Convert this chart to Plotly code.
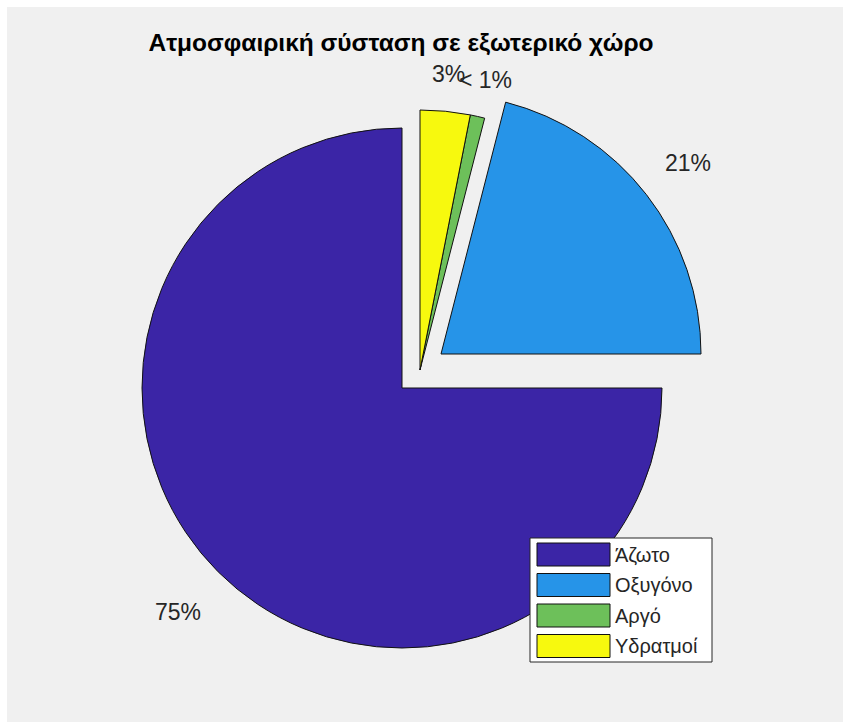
import math
import plotly.graph_objects as go

# ---- data ----
labels = ["Άζωτο", "Οξυγόνο", "Αργό", "Υδρατμοί"]
values = [75, 21, 0.9, 3.1]
colors = ["#3b25a6", "#2694e8", "#6dc05a", "#f7f90e"]
title_text = "Ατμοσφαιρική σύσταση σε εξωτερικό χώρο"

# ---- layout constants (pixels) ----
W, H = 843, 722
R = 260
CX, CY = 402, 388
# exploded groups: slice indices, offset (dx right, dy up) in px, label radius factor
GROUPS = [([0], (0, 0), 1.22), ([1], (39, 34), 1.2), ([2, 3], (18, 18), 1.145)]
TEXT_COLOR = "#262626"
FONT = "Liberation Sans, Arial, sans-serif"

total = sum(values)
fracs = [v / total for v in values]


def pct_label(f):
    p = f * 100
    return "< 1%" if p < 1 else f"{round(p)}%"


fig = go.Figure()
annotations = []
for idxs, (dx, dy), lr in GROUPS:
    cx, cy = CX + dx, CY - dy
    fill = [colors[i] if i in idxs else "rgba(0,0,0,0)" for i in range(len(values))]
    lw = [1 if i in idxs else 0 for i in range(len(values))]
    fig.add_trace(go.Pie(
        labels=labels, values=values, sort=False, direction="counterclockwise",
        rotation=90, textinfo="none", hoverinfo="skip", showlegend=False,
        marker=dict(colors=fill, line=dict(color="#111111", width=lw)),
        domain=dict(x=[(cx - R) / W, (cx + R) / W],
                    y=[1 - (cy + R) / H, 1 - (cy - R) / H]),
    ))
    for i in idxs:
        start = 90 + 360 * sum(fracs[:i])
        mid = math.radians(start + 180 * fracs[i])
        tx = cx + lr * R * math.cos(mid)
        ty = cy - lr * R * math.sin(mid)
        annotations.append(dict(
            x=tx / W, y=1 - ty / H, xref="paper", yref="paper",
            text=pct_label(fracs[i]), showarrow=False,
            xanchor="center", yanchor="middle",
            font=dict(family=FONT, size=23, color=TEXT_COLOR)))

shapes = [dict(type="rect", xref="paper", yref="paper", x0=7 / W, x1=1,
               y0=0, y1=1 - 7 / H, fillcolor="#f0f0f0", line=dict(width=0),
               layer="below")]

# custom legend
LX0, LY0, LX1, LY1 = 530, 538, 712, 662
shapes.append(dict(type="rect", xref="paper", yref="paper",
                   x0=LX0 / W, x1=LX1 / W, y0=1 - LY1 / H, y1=1 - LY0 / H,
                   fillcolor="white", line=dict(color="#262626", width=1)))
PX0, PX1, PY0, PH, PITCH = 537, 610, 543, 23, 30.5
for k, (lab, col) in enumerate(zip(labels, colors)):
    y0 = PY0 + k * PITCH
    shapes.append(dict(type="rect", xref="paper", yref="paper",
                       x0=PX0 / W, x1=PX1 / W, y0=1 - (y0 + PH) / H, y1=1 - y0 / H,
                       fillcolor=col, line=dict(color="#111111", width=1)))
    annotations.append(dict(
        x=(PX1 + 3) / W, y=1 - (y0 + PH / 2) / H, xref="paper", yref="paper",
        text=lab, showarrow=False, xanchor="left", yanchor="middle",
        font=dict(family=FONT, size=20, color=TEXT_COLOR)))

fig.update_layout(
    width=W, height=H, margin=dict(l=0, r=0, t=0, b=0),
    paper_bgcolor="white", plot_bgcolor="#f0f0f0",
    showlegend=False,
    title=dict(text="<b>" + title_text + "</b>", x=401 / W, xanchor="center",
               y=1 - 42 / H, yanchor="middle",
               font=dict(family=FONT, size=24.5, color="black")),
    shapes=shapes, annotations=annotations,
)

fig.write_html("out.html")
